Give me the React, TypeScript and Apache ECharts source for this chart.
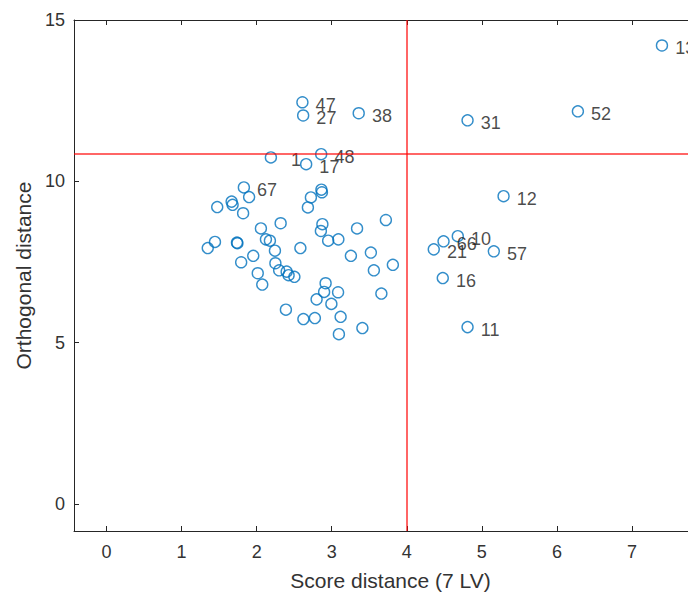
import React, { useEffect, useRef } from "react";
import * as echarts from "echarts";

// Score distance (x) and orthogonal distance (y) of each sample, with sample label ("" = unlabeled)
const pointLabel: string[] = [
  "13", "52", "31", "47", "27", "38", "1", "48", "17", "67", "12", "10", "66", "21", "57", "16", "11",
  "", "", "", "", "", "", "", "", "", "", "", "", "", "", "", "", "", "", "", "", "", "", "", "", "",
  "", "", "", "", "", "", "", "", "", "", "", "", "", "", "", "", "", "", "", "", "", "", "", "", "",
];
const pointX: number[] = [
  7.40, 6.28, 4.81, 2.61, 2.62, 3.36, 2.19, 2.86, 2.66, 1.83, 5.29, 4.68, 4.49, 4.36, 5.16, 4.48, 4.81,
  1.90, 1.667, 1.68, 1.475, 1.82, 2.863, 2.87, 2.723, 2.683, 2.32, 2.057, 2.876, 2.856, 2.953, 3.089,
  3.338, 3.722, 2.124, 2.177, 2.244, 2.583, 3.256, 3.522, 3.562, 3.815, 1.445, 1.349, 1.738, 1.744,
  1.955, 1.794, 2.015, 2.075, 2.25, 2.30, 2.40, 2.426, 2.503, 2.919, 2.899, 3.085, 2.799, 2.996,
  3.662, 3.119, 2.776, 2.623, 2.39, 3.096, 3.409,
];
const pointY: number[] = [
  14.21, 12.17, 11.89, 12.45, 12.04, 12.11, 10.74, 10.84, 10.53, 9.81, 9.54, 8.30, 8.14, 7.89, 7.83, 7.00, 5.48,
  9.51, 9.37, 9.27, 9.20, 9.01, 9.74, 9.66, 9.50, 9.19, 8.70, 8.54, 8.67, 8.46, 8.16, 8.20,
  8.54, 8.80, 8.20, 8.16, 7.85, 7.93, 7.69, 7.79, 7.24, 7.41, 8.12, 7.93, 8.10, 8.08,
  7.69, 7.49, 7.15, 6.80, 7.46, 7.24, 7.20, 7.09, 7.04, 6.84, 6.57, 6.56, 6.34, 6.20,
  6.52, 5.80, 5.76, 5.73, 6.02, 5.26, 5.45,
];

const xTicks = [0, 1, 2, 3, 4, 5, 6, 7];
const yTicks = [0, 5, 10, 15];
const scoreLimit = 4;
const orthLimit = 10.84;

const FONT = "Liberation Sans";
const AXIS_COLOR = "#262626";

export default function App() {
  const ref = useRef<HTMLDivElement>(null);

  useEffect(() => {
    if (!ref.current) return;
    const chart = echarts.init(ref.current, undefined, { renderer: "svg" });

    const data = pointX.map((x, i) => {
      const lab = pointLabel[i];
      const item: any = { value: [x, pointY[i]] };
      if (lab) {
        let off = [0, 2.5];
        if (lab === "1") off = [7, 3];
        if (lab === "17") off = [0, 3];
        item.label = { show: true, formatter: lab, offset: off };
      }
      return item;
    });

    const tickAxis = (pos: "bottom" | "top", showLabel: boolean) => ({
      type: "value" as const,
      position: pos,
      min: -0.433,
      max: 8,
      splitLine: { show: false },
      axisLine: { show: true, onZero: false, lineStyle: { color: AXIS_COLOR, width: 1 } },
      axisTick: { show: true, inside: true, length: 5, customValues: xTicks, lineStyle: { color: AXIS_COLOR } },
      axisLabel: {
        show: showLabel,
        customValues: xTicks,
        margin: 12,
        fontFamily: FONT,
        fontSize: 18,
        color: "#333",
      },
    });

    chart.setOption({
      animation: false,
      backgroundColor: "#ffffff",
      grid: { left: 74, top: 20, bottom: 64, right: 0, containLabel: false },
      xAxis: [
        {
          ...tickAxis("bottom", true),
          name: "Score distance (7 LV)",
          nameLocation: "middle",
          nameGap: 39,
          nameTextStyle: { fontFamily: FONT, fontSize: 21, color: "#333" },
        },
        { ...tickAxis("top", false) },
      ],
      yAxis: {
        type: "value",
        min: -0.84,
        max: 15,
        name: "Orthogonal distance",
        nameLocation: "middle",
        nameGap: 36,
        nameTextStyle: { fontFamily: FONT, fontSize: 21, color: "#333" },
        splitLine: { show: false },
        axisLine: { show: true, onZero: false, lineStyle: { color: AXIS_COLOR, width: 1 } },
        axisTick: { show: true, inside: true, length: 5, customValues: yTicks, lineStyle: { color: AXIS_COLOR } },
        axisLabel: {
          customValues: yTicks,
          margin: 9,
          fontFamily: FONT,
          fontSize: 18,
          color: "#333",
        },
      },
      series: [
        {
          type: "scatter",
          xAxisIndex: 0,
          symbol: "circle",
          symbolSize: 11,
          itemStyle: { color: "rgba(0,0,0,0)", borderColor: "#0072BD", borderWidth: 1.4 },
          label: {
            show: false,
            position: "right",
            distance: 7,
            fontFamily: FONT,
            fontSize: 18,
            color: "#1a1a1a",
          },
          emphasis: { disabled: true },
          data,
          markLine: {
            silent: true,
            symbol: "none",
            label: { show: false },
            lineStyle: { color: "rgba(255,0,0,0.6)", width: 2, type: "solid" },
            data: [{ xAxis: scoreLimit }, { yAxis: orthLimit }],
          },
        },
      ],
    });

    return () => chart.dispose();
  }, []);

  return (
    <div
      style={{
        position: "fixed",
        left: 0,
        top: 0,
        width: 688,
        height: 596,
        overflow: "hidden",
        background: "#fff",
      }}
    >
      <div ref={ref} style={{ position: "absolute", left: 0, top: 0, width: 707, height: 596 }} />
    </div>
  );
}
